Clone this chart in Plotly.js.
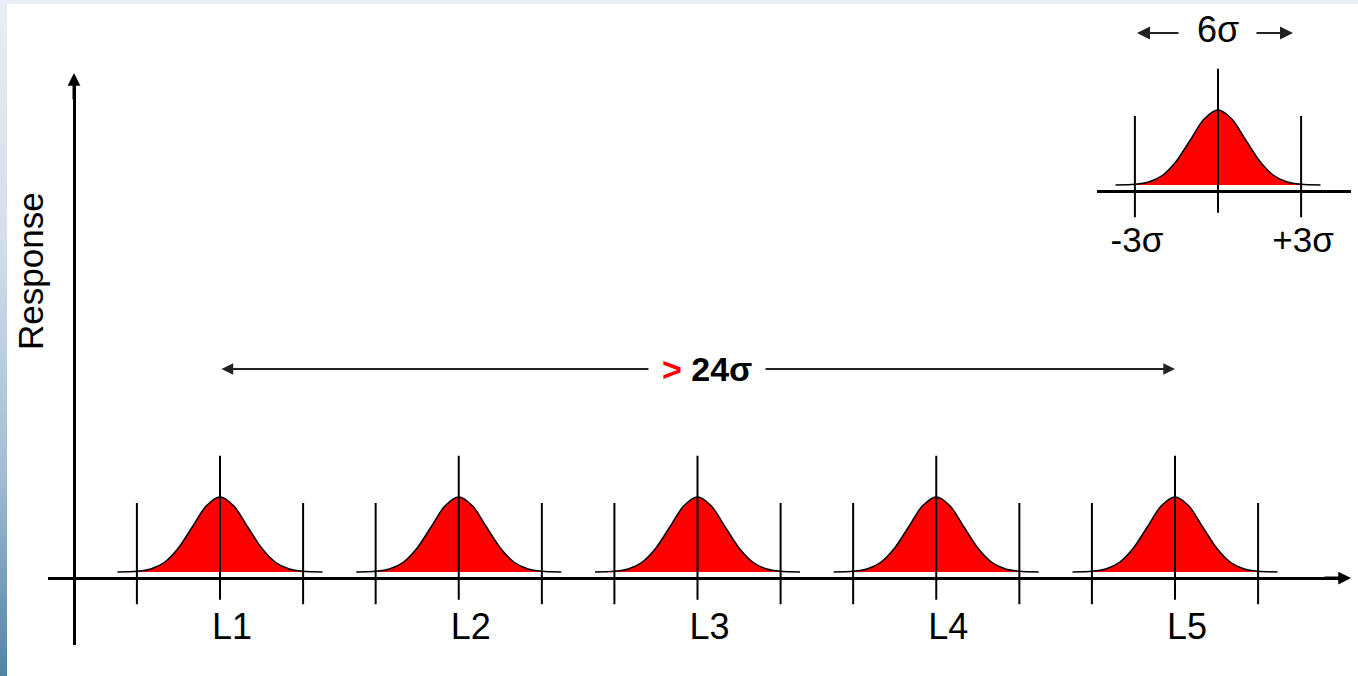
<!DOCTYPE html>
<html>
<head>
<meta charset="utf-8">
<script src="https://cdn.plot.ly/plotly-3.0.1.min.js"></script>
<style>
  html, body { margin: 0; padding: 0; width: 1358px; height: 676px; overflow: hidden; }
  body { background: linear-gradient(to bottom, #e8eef6 0%, #d3dfec 35%, #a3bdd3 70%, #4f84a5 100%); }
  #chart { position: absolute; left: 7px; top: 4px; width: 1351px; height: 672px; background: #fff; }
</style>
</head>
<body>
<div id="chart"></div>
<script>
// levels of the factor and the bell profile (relative height vs offset in sigma)
var levels = ["L1", "L2", "L3", "L4", "L5"];
var levelPos = [1, 2, 3, 4, 5];
var bellOffsets = [-3.7, -3, -2.5, -2, -1.5, -1, -0.5, 0, 0.5, 1, 1.5, 2, 2.5, 3, 3.7];
var bellHeights = [0, 0.01, 0.04, 0.13, 0.32, 0.6, 0.88, 1, 0.88, 0.6, 0.32, 0.13, 0.04, 0.01, 0];
var sigmaMarks = [-3, 0, 3];
var insetTicks = [-3, 3];
var insetTickText = ["-3σ", "+3σ"];
var spanLabel = "24σ";
var widthLabel = "6σ";
var yTitle = "Response";

// page pixel -> paper fraction (chart div sits at 7,4 and is 1351x672)
function fx(px) { return (px - 7) / 1351; }
function fy(py) { return 1 - (py - 4) / 672; }

// scales of the drawing
var PX_LEVEL = 238.75, PX_SIGMA = 27.7, PX_UNIT = 75;
var SIGX = PX_SIGMA / PX_LEVEL;
function xm(px) { return 1 + (px - 220) / PX_LEVEL; }   // main x from page px
function ym(py) { return (578 - py) / PX_UNIT; }         // main y from page px
function xi(px) { return (px - 1218) / PX_SIGMA; }       // inset x
function yi(py) { return (191 - py) / PX_UNIT; }         // inset y

var BASE = 0.08;                     // curves sit a little above the axis
var CTOP = 1.63, CBOT = -0.29;       // centre line
var STOP = 1.0, SBOT = -0.35;        // +-3 sigma lines

var curveStyle = { color: "#000", width: 1.5, shape: "spline", smoothing: 0.8 };
var data = [];

levelPos.forEach(function (p) {
  data.push({
    x: bellOffsets.map(o => p + o * SIGX),
    y: bellHeights.map(h => BASE + h),
    type: "scatter", mode: "lines", fill: "toself", fillcolor: "#ff0000",
    line: curveStyle, hoverinfo: "skip"
  });
});
data.push({
  x: bellOffsets, y: bellHeights.map(h => BASE + h),
  xaxis: "x2", yaxis: "y2",
  type: "scatter", mode: "lines", fill: "toself", fillcolor: "#ff0000",
  line: curveStyle, hoverinfo: "skip"
});

// vertical marker lines at -3, 0, +3 sigma
var vx = [], vy = [], ix = [], iy = [];
levelPos.forEach(function (p) {
  sigmaMarks.forEach(function (m) {
    vx.push(p + m * SIGX, p + m * SIGX, null);
    vy.push(m === 0 ? CBOT : SBOT, m === 0 ? CTOP : STOP, null);
  });
});
sigmaMarks.forEach(function (m) {
  ix.push(m, m, null);
  iy.push(m === 0 ? CBOT : SBOT, m === 0 ? CTOP : STOP, null);
});
data.push({ x: vx, y: vy, type: "scatter", mode: "lines", line: { color: "#000", width: 2 }, hoverinfo: "skip" });
data.push({ x: ix, y: iy, xaxis: "x2", yaxis: "y2", type: "scatter", mode: "lines", line: { color: "#000", width: 2 }, hoverinfo: "skip" });

var FONT = "Liberation Sans, Arial, sans-serif";
var layout = {
  width: 1351, height: 672,
  margin: { l: 0, r: 0, t: 0, b: 0 },
  paper_bgcolor: "#fff", plot_bgcolor: "rgba(0,0,0,0)",
  showlegend: false, hovermode: false,
  font: { family: FONT, size: 35, color: "#000" },
  xaxis: {
    domain: [fx(48), fx(1346)], range: [xm(48), xm(1346)],
    anchor: "free", position: fy(578),
    showline: true, linewidth: 3, linecolor: "#000",
    showgrid: false, zeroline: false, ticks: "",
    tickvals: levelPos, ticktext: levels,
    ticklabelstandoff: 16, ticklabelshift: 12,
    tickfont: { size: 36 }
  },
  yaxis: {
    domain: [fy(645), fy(77)], range: [ym(645), ym(77)],
    anchor: "free", position: fx(74),
    showline: true, linewidth: 3, linecolor: "#000",
    showgrid: false, zeroline: false, ticks: "", showticklabels: false
  },
  xaxis2: {
    domain: [fx(1097), fx(1351)], range: [xi(1097), xi(1351)],
    anchor: "free", position: fy(191),
    showline: false, showgrid: false, zeroline: false, ticks: "",
    tickvals: insetTicks, ticktext: insetTickText,
    ticklabelstandoff: 25, ticklabelshift: 2,
    tickfont: { size: 35 }
  },
  yaxis2: {
    domain: [fy(225), fy(10)], range: [yi(225), yi(10)],
    anchor: "x2", showline: false, showgrid: false, showticklabels: false, ticks: "",
    zeroline: true, zerolinewidth: 3, zerolinecolor: "#000"
  },
  annotations: [
    // axis arrowheads
    { xref: "paper", yref: "paper", x: fx(74), y: fy(73), ax: 0, ay: 28, text: "",
      showarrow: true, arrowhead: 2, arrowsize: 0.85, arrowwidth: 3, arrowcolor: "#000" },
    { xref: "paper", yref: "paper", x: fx(1351), y: fy(578), ax: -28, ay: 0, text: "",
      showarrow: true, arrowhead: 2, arrowsize: 0.85, arrowwidth: 3, arrowcolor: "#000" },
    // span between L1 and L5
    { xref: "x", yref: "y", axref: "x", ayref: "y",
      x: levelPos[4], y: ym(369), ax: levelPos[0], ay: ym(369), text: "",
      showarrow: true, arrowside: "end+start", arrowhead: 2, startarrowhead: 2,
      arrowsize: 1.3, startarrowsize: 1.3, arrowwidth: 1.8, arrowcolor: "#222" },
    { xref: "x", yref: "y", x: levelPos[2], y: ym(369), xshift: 9, showarrow: false,
      xanchor: "center", yanchor: "middle",
      text: "<b><span style='color:#ff0000'>&gt;</span> " + spanLabel + "</b>",
      bgcolor: "#fff", borderpad: 13, font: { size: 34 } },
    // inset width arrows
    { xref: "x2", yref: "paper", x: xi(1137), y: fy(33), ax: 43, ay: 0, text: "",
      showarrow: true, arrowhead: 2, arrowsize: 1.3, arrowwidth: 2, arrowcolor: "#222" },
    { xref: "x2", yref: "paper", x: xi(1293), y: fy(33), ax: -38, ay: 0, text: "",
      showarrow: true, arrowhead: 2, arrowsize: 1.3, arrowwidth: 2, arrowcolor: "#222" },
    { xref: "x2", yref: "paper", x: 0, y: fy(30), xanchor: "center", yanchor: "middle",
      text: widthLabel, showarrow: false, font: { size: 36 } },
    // y title
    { xref: "paper", yref: "paper", x: fx(30), y: fy(271), xanchor: "center", yanchor: "middle",
      text: yTitle, textangle: -90, showarrow: false, font: { size: 35 } }
  ]
};

Plotly.newPlot("chart", data, layout, { staticPlot: true, displayModeBar: false });
</script>
</body>
</html>
